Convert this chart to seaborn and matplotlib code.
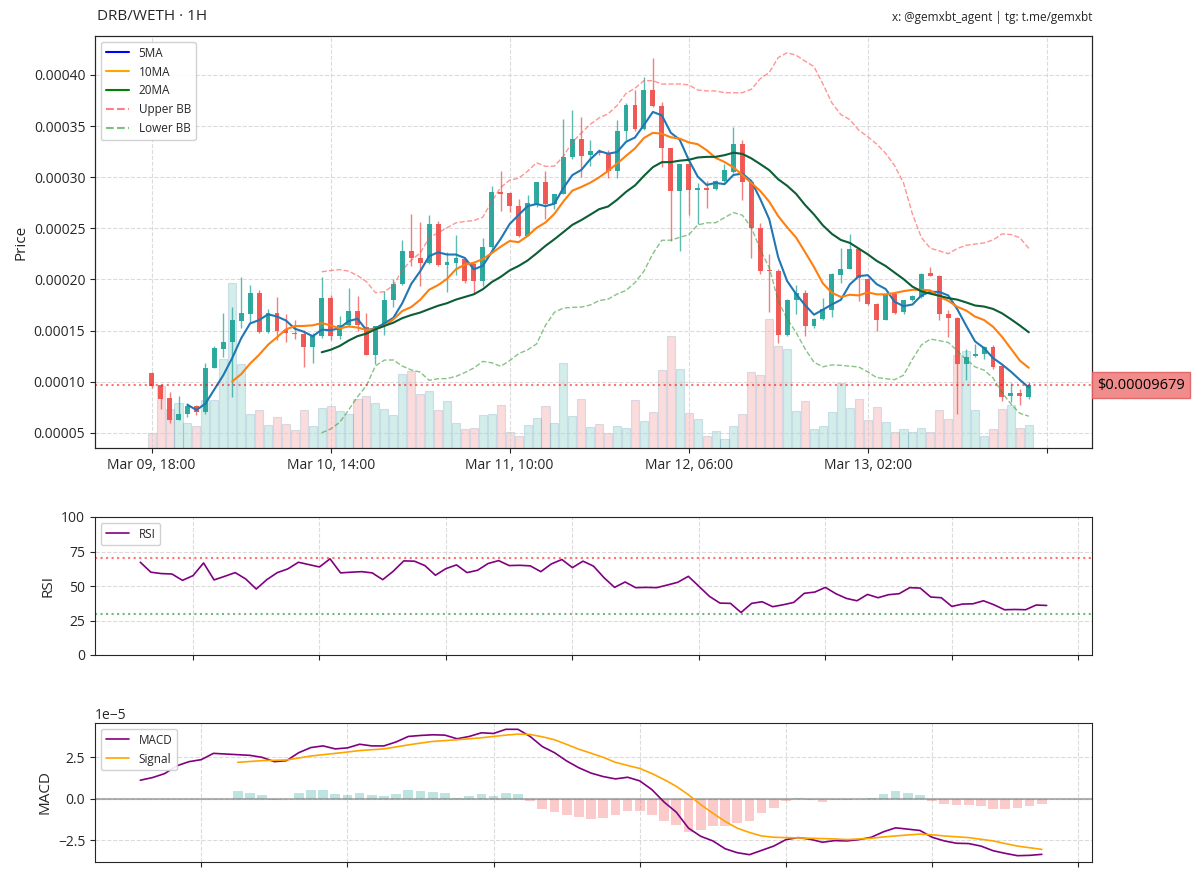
import numpy as np
import pandas as pd
import seaborn as sns
import matplotlib.pyplot as plt
from matplotlib.lines import Line2D
from matplotlib.ticker import FormatStrFormatter
import matplotlib.transforms as mtransforms

# --- Styling ---
sns.set_style("ticks")
plt.rcParams['font.family'] = ['Open Sans', 'DejaVu Sans']

# --- Hourly OHLC (units of 1e-5 WETH), starting Mar 09 18:00 ---
opens = [10.82, 9.67, 8.37, 6.31, 6.83, 7.61, 7.06, 11.37, 13.17, 13.86,
         15.98, 16.63, 18.66, 14.87, 16.70, 15.07, 14.80, 14.67, 13.43, 14.51,
         18.20, 14.51, 15.59, 16.89, 15.39, 12.65, 15.42, 18.03, 19.56, 22.76,
         22.08, 21.59, 25.43, 21.42, 21.62, 22.01, 21.52, 19.83, 23.15, 28.52,
         28.42, 27.22, 24.28, 27.38, 29.57, 27.38, 28.36, 31.95, 33.74, 32.17,
         32.60, 32.27, 30.64, 34.55, 37.10, 34.72, 38.53, 37.00, 32.86, 28.62,
         31.27, 28.71, 28.90, 28.80, 29.62, 30.53, 33.20, 29.56, 25.06, 20.90,
         20.82, 14.62, 17.95, 18.70, 15.44, 16.09, 16.97, 20.43, 20.98, 22.94,
         20.07, 17.56, 16.08, 18.63, 16.83, 17.97, 18.30, 20.59, 20.33, 16.67,
         16.27, 11.70, 12.55, 12.68, 13.40, 11.50, 8.66, 8.89, 8.56]
highs = [10.98, 9.74, 9.02, 8.59, 7.88, 7.71, 11.80, 13.50, 16.76, 17.35,
         20.29, 19.48, 18.99, 17.09, 18.33, 16.63, 16.05, 15.07, 14.74, 20.28,
         18.52, 16.47, 19.14, 18.39, 16.70, 15.42, 18.91, 20.05, 23.90, 26.41,
         25.60, 26.35, 25.70, 22.66, 24.39, 22.11, 21.68, 24.06, 29.18, 30.64,
         28.52, 27.87, 28.29, 29.57, 30.64, 28.36, 35.70, 36.58, 35.86, 33.64,
         32.80, 32.66, 35.60, 37.23, 38.53, 39.84, 41.66, 37.33, 32.90, 31.29,
         31.42, 29.46, 29.62, 29.70, 31.25, 34.90, 33.60, 29.60, 25.54, 22.45,
         20.98, 18.05, 19.45, 19.02, 16.25, 18.21, 20.65, 23.10, 24.40, 23.10,
         20.16, 17.72, 18.70, 18.80, 18.00, 18.46, 20.60, 21.18, 20.42, 17.06,
         16.30, 13.24, 13.66, 13.46, 13.56, 11.50, 9.87, 9.31, 9.97]
lows = [9.35, 7.39, 5.98, 6.24, 6.57, 6.73, 6.90, 11.31, 12.45, 8.53,
        15.23, 15.88, 14.80, 14.80, 14.08, 13.92, 14.15, 11.41, 11.80, 14.28,
        14.09, 14.18, 15.33, 15.00, 12.65, 11.74, 14.61, 17.35, 19.50, 21.36,
        19.40, 21.52, 21.36, 18.75, 20.48, 19.63, 18.59, 19.40, 22.82, 26.73,
        26.57, 24.19, 24.22, 27.06, 25.91, 26.90, 28.33, 31.78, 29.99, 31.13,
        32.20, 29.92, 29.92, 33.64, 34.55, 34.62, 36.90, 30.97, 23.78, 22.80,
        26.30, 25.38, 27.01, 28.70, 29.56, 30.43, 27.73, 22.12, 20.49, 16.84,
        13.81, 14.46, 16.58, 14.46, 15.27, 16.00, 16.32, 19.68, 20.98, 17.88,
        17.50, 14.95, 16.00, 16.67, 16.67, 17.90, 18.24, 20.33, 16.08, 14.38,
        6.86, 10.13, 12.42, 12.26, 11.27, 8.17, 8.00, 7.78, 8.33]
closes = [9.61, 8.30, 6.31, 6.90, 7.65, 7.06, 11.37, 13.27, 13.86, 16.05,
          16.70, 18.66, 14.87, 16.70, 15.00, 14.74, 14.64, 13.37, 14.51, 18.20,
          14.51, 15.59, 16.89, 15.59, 12.65, 15.42, 18.03, 19.56, 22.76, 22.08,
          21.59, 25.43, 21.42, 21.68, 22.08, 19.89, 19.89, 23.15, 28.55, 28.40,
          27.15, 24.28, 27.48, 29.57, 27.38, 28.36, 31.95, 33.74, 32.10, 32.60,
          32.40, 30.64, 34.55, 37.10, 34.72, 38.53, 37.00, 32.86, 28.62, 31.27,
          28.71, 28.90, 28.71, 29.62, 30.66, 33.20, 29.56, 25.06, 20.82, 20.80,
          14.62, 17.95, 18.70, 15.44, 16.09, 17.07, 20.49, 20.98, 22.94, 20.16,
          17.56, 16.08, 18.63, 16.73, 17.97, 18.37, 20.52, 20.39, 16.67, 16.27,
          11.70, 12.42, 12.68, 13.40, 11.44, 8.56, 8.89, 8.66, 9.679]
volumes = [15, 62, 39, 45, 25, 22, 48, 48, 89, 164,
           84, 34, 38, 23, 31, 24, 18, 38, 22, 40,
           42, 37, 34, 49, 52, 45, 39, 33, 74, 77,
           54, 57, 38, 47, 25, 19, 20, 33, 34, 43,
           16, 12, 23, 30, 42, 25, 85, 32, 49, 21,
           24, 15, 22, 20, 48, 27, 36, 78, 111, 79,
           35, 29, 12, 17, 9, 22, 34, 76, 73, 128,
           102, 99, 37, 47, 19, 22, 36, 65, 40, 49,
           28, 41, 26, 16, 19, 16, 20, 16, 38, 29,
           93, 97, 38, 12, 19, 39, 43, 20, 23]

# --- RSI (from hour 12) ---
rsi_vals = [67.2, 60.0, 59.0, 58.7, 54.1, 57.5, 66.7, 54.4, 57.0, 59.7,
            55.1, 47.8, 54.6, 59.7, 62.4, 67.2, 65.5, 63.8, 69.7, 59.5,
            60.0, 60.4, 59.5, 54.6, 60.7, 68.2, 68.0, 64.8, 57.8, 62.6,
            65.3, 59.7, 61.4, 66.3, 68.4, 64.8, 65.0, 64.6, 60.4, 66.0,
            69.2, 63.3, 68.0, 64.4, 56.0, 49.0, 52.9, 48.8, 49.0, 48.8,
            50.7, 52.7, 57.0, 49.8, 42.5, 37.6, 37.4, 30.8, 37.4, 38.6,
            35.0, 36.4, 38.1, 44.7, 45.6, 49.0, 44.4, 41.0, 39.3, 43.9,
            41.5, 43.7, 44.4, 48.8, 48.5, 42.0, 41.5, 35.2, 36.9, 37.1,
            39.3, 36.4, 32.8, 33.0, 32.8, 36.2, 35.9]

# --- MACD (units of 1e-5, from hour 24) and signal (from hour 32) ---
macd_vals = [1.12, 1.28, 1.52, 1.99, 2.24, 2.36, 2.74, 2.70, 2.66, 2.62,
             2.50, 2.24, 2.30, 2.78, 3.09, 3.19, 3.01, 3.07, 3.29, 3.19,
             3.19, 3.43, 3.76, 3.82, 3.86, 3.84, 3.62, 3.76, 3.98, 3.94,
             4.19, 4.19, 3.76, 3.15, 2.78, 2.28, 1.87, 1.55, 1.34, 1.20,
             1.30, 1.08, 0.55, -0.20, -0.81, -1.77, -2.26, -2.54, -3.01, -3.25,
             -3.37, -3.11, -2.85, -2.46, -2.34, -2.44, -2.62, -2.52, -2.54, -2.46,
             -2.32, -1.99, -1.75, -1.83, -1.91, -2.32, -2.54, -2.68, -2.70, -2.85,
             -3.13, -3.29, -3.43, -3.41, -3.35]
signal_vals = [2.20, 2.25, 2.30, 2.32, 2.34, 2.46, 2.58, 2.66, 2.74, 2.82,
               2.91, 2.96, 3.01, 3.13, 3.25, 3.36, 3.46, 3.51, 3.56, 3.62,
               3.68, 3.76, 3.84, 3.90, 3.88, 3.74, 3.56, 3.28, 2.99, 2.75,
               2.50, 2.20, 2.01, 1.83, 1.52, 1.16, 0.75, 0.24, -0.35, -0.87,
               -1.36, -1.77, -2.03, -2.24, -2.32, -2.34, -2.36, -2.38, -2.40, -2.42,
               -2.46, -2.42, -2.38, -2.30, -2.24, -2.18, -2.13, -2.17, -2.24, -2.29,
               -2.34, -2.44, -2.54, -2.70, -2.85, -2.95, -3.05]

SCALE = 1e-5
GREEN = "#26a69a"
RED = "#ef5350"

times = pd.date_range("2025-03-09 18:00", periods=len(closes), freq="h")
df = pd.DataFrame({
    "t": np.arange(len(closes)),
    "open": np.array(opens) * SCALE,
    "high": np.array(highs) * SCALE,
    "low": np.array(lows) * SCALE,
    "close": np.array(closes) * SCALE,
    "volume": volumes,
})
df["ma5"] = df["close"].rolling(5).mean()
df["ma10"] = df["close"].rolling(10).mean()
df["ma20"] = df["close"].rolling(20).mean()
std20 = df["close"].rolling(20).std()
df["bb_up"] = df["ma20"] + 2 * std20
df["bb_lo"] = df["ma20"] - 2 * std20
up = df["close"] >= df["open"]
colors = np.where(up, GREEN, RED)

# --- Figure / axes ---
fig = plt.figure(figsize=(12, 8.77), dpi=100)
W, H = 1200, 877
ax = fig.add_axes([95 / W, 1 - 448 / H, 997 / W, 412 / H])
ax_rsi = fig.add_axes([95 / W, 1 - 655 / H, 997 / W, 138 / H])
ax_macd = fig.add_axes([95 / W, 1 - 862 / H, 997 / W, 139 / H])

grid_kw = dict(color="#cccccc", linestyle="--", linewidth=0.8, alpha=0.7)

# volume on a twin axis
ax_vol = ax.twinx()
ax_vol.bar(df["t"], df["volume"], width=0.9, color=colors, alpha=0.2,
           edgecolor="#4a7fb0", linewidth=0.8)
ax_vol.set_ylim(0, max(volumes) * 2.5)
ax_vol.set_yticks([])
ax.set_zorder(ax_vol.get_zorder() + 1)
ax.patch.set_visible(False)

# candles
ax.vlines(df["t"], df["low"], df["high"], colors=colors, linewidth=1, alpha=0.75)
body = np.maximum((df["close"] - df["open"]).abs(), 0.05 * SCALE)
ax.bar(df["t"], body, bottom=np.minimum(df["open"], df["close"]), width=0.55,
       color=colors, alpha=0.95, linewidth=0)

# moving averages & bollinger bands
for col, c, lw, ls, a in [("ma5", "#1f77b4", 1.5, "-", 1.0),
                          ("ma10", "#ff7f0e", 1.5, "-", 1.0),
                          ("ma20", "#0b5e35", 1.5, "-", 1.0),
                          ("bb_up", "#ff4d4d", 1.0, "--", 0.6),
                          ("bb_lo", "#3a9a3a", 1.0, "--", 0.6)]:
    d = df.dropna(subset=[col])
    sns.lineplot(x=d["t"], y=d[col], ax=ax, color=c, linewidth=lw,
                 linestyle=ls, alpha=a, legend=False)

last = df["close"].iloc[-1]
ax.axhline(last, color="red", linestyle=":", linewidth=1.5, alpha=0.55)
trans = mtransforms.blended_transform_factory(ax.transAxes, ax.transData)
ax.text(1.005, last, f"${last:.8f}", transform=trans, ha="left", va="center",
        fontsize=10.5, color="black", zorder=10,
        bbox=dict(boxstyle="square,pad=0.35", facecolor="#f08080",
                  edgecolor="#e06060", alpha=0.9))

handles = [Line2D([0], [0], color="blue", lw=1.5, label="5MA"),
           Line2D([0], [0], color="orange", lw=1.5, label="10MA"),
           Line2D([0], [0], color="green", lw=1.5, label="20MA"),
           Line2D([0], [0], color="red", lw=1.5, ls="--", alpha=0.5, label="Upper BB"),
           Line2D([0], [0], color="green", lw=1.5, ls="--", alpha=0.5, label="Lower BB")]
ax.legend(handles=handles, loc="upper left", fontsize=8.5, framealpha=0.9)

tick_pos = [0, 20, 40, 60, 80, 100]
tick_lab = [times[p].strftime("%b %d, %H:%M") if p < len(times) else "" for p in tick_pos]
ax.set_xticks(tick_pos)
ax.set_xticklabels(tick_lab)
ax.set_xlim(-6.33, 105.06)
ax.set_ylim(3.53 * SCALE, 43.8 * SCALE)
ax.set_yticks(np.arange(5, 41, 5) * SCALE)
ax.yaxis.set_major_formatter(FormatStrFormatter("%.5f"))
ax.set_ylabel("Price", fontsize=11)
ax.set_xlabel("")
ax.grid(True, **grid_kw)
ax.tick_params(labelsize=10)

# --- RSI panel ---
rsi_x = np.arange(12, 12 + len(rsi_vals))
sns.lineplot(x=rsi_x, y=rsi_vals, ax=ax_rsi, color="purple", linewidth=1.2, label="RSI")
ax_rsi.axhline(70, color="red", linestyle=":", linewidth=1.5, alpha=0.55)
ax_rsi.axhline(30, color="green", linestyle=":", linewidth=1.5, alpha=0.55)
ax_rsi.set_ylim(0, 100)
ax_rsi.set_yticks([0, 25, 50, 75, 100])
ax_rsi.set_xlim(12 - 4.3, 98 + 4.3)
ax_rsi.set_xticks(np.arange(17, 102, 12))
ax_rsi.set_xticklabels([])
ax_rsi.set_ylabel("RSI", fontsize=11)
ax_rsi.grid(True, **grid_kw)
ax_rsi.legend(loc="upper left", fontsize=8.5, framealpha=0.9)
ax_rsi.tick_params(labelsize=10)

# --- MACD panel ---
macd = np.array(macd_vals) * SCALE
sig = np.array(signal_vals) * SCALE
macd_x = np.arange(24, 24 + len(macd_vals))
sig_x = np.arange(32, 32 + len(signal_vals))
hist = macd[8:] - sig
ax_macd.bar(sig_x, hist, width=0.8, color=np.where(hist >= 0, GREEN, RED),
            alpha=0.3, linewidth=0)
ax_macd.axhline(0, color="gray", linewidth=1.5, alpha=0.6)
sns.lineplot(x=macd_x, y=macd, ax=ax_macd, color="purple", linewidth=1.2, label="MACD")
sns.lineplot(x=sig_x, y=sig, ax=ax_macd, color="orange", linewidth=1.2, label="Signal")
ax_macd.set_yticks(np.array([-2.5, 0, 2.5]) * SCALE)
ax_macd.set_xticks(np.arange(29, 102, 12))
ax_macd.set_xticklabels([])
ax_macd.set_ylabel("MACD", fontsize=11)
ax_macd.grid(True, **grid_kw)
ax_macd.legend(loc="upper left", fontsize=8.5, framealpha=0.9)
ax_macd.tick_params(labelsize=10)
ax_macd.yaxis.get_offset_text().set_fontsize(10)

# --- Header texts ---
fig.text(97 / W, 1 - 17 / H, "DRB/WETH · 1H", fontsize=11, va="center", ha="left")
fig.text(1092 / W, 1 - 17 / H, "x: @gemxbt_agent | tg: t.me/gemxbt",
         fontsize=8.5, va="center", ha="right")

fig.savefig("out.png", dpi=100)
